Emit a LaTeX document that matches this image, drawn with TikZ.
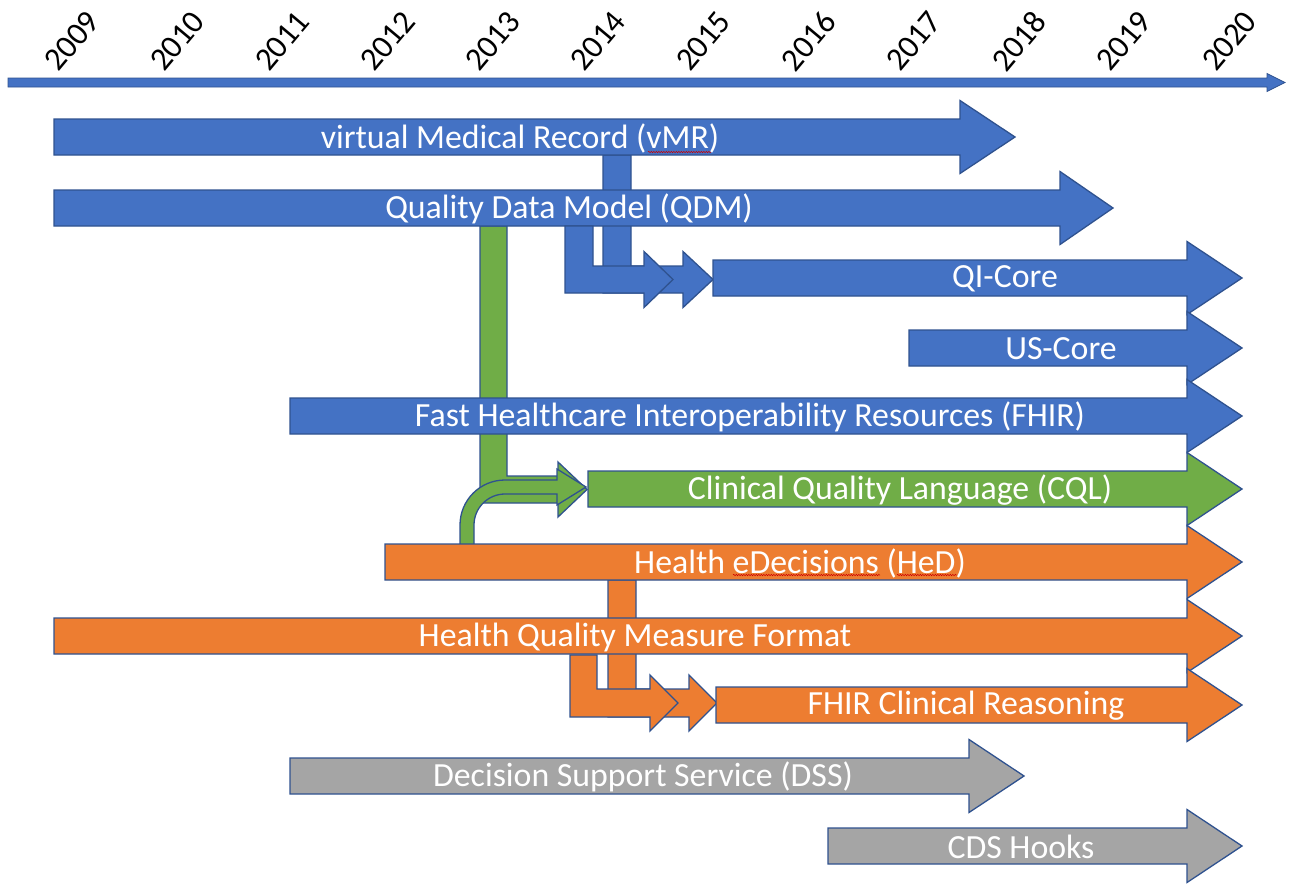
\documentclass[tikz,border=0pt]{standalone}
\usepackage{fontspec}
\setmainfont{Carlito}
\usetikzlibrary{decorations.pathmorphing}
\definecolor{cblue}{HTML}{4472C4}
\definecolor{cgreen}{HTML}{70AD47}
\definecolor{corange}{HTML}{ED7D31}
\definecolor{cgray}{HTML}{A5A5A5}
\definecolor{cline}{HTML}{2F528F}
\tikzset{
  blk/.style={draw=cline, line width=1.3pt, line join=miter},
  lbl/.style={text=white, font=\fontsize{33.8}{40}\selectfont, inner sep=0pt, anchor=center},
  yr/.style={font=\fontsize{32.5}{38}\selectfont, rotate=50, inner sep=0pt, anchor=center},
  squig/.style={draw=red!80!black, line width=0.5pt, decorate, decoration={snake, amplitude=0.7pt, segment length=2.5pt}}
}
% block arrow: #1 left x, #2 head back x, #3 tip x, #4 centre y, #5 colour
\newcommand{\blockarrow}[5]{%
  \path[blk, fill=#5] (#1,#4-18) -- (#2,#4-18) -- (#2,#4-36.5) -- (#3,#4) -- (#2,#4+36.5) -- (#2,#4+18) -- (#1,#4+18) -- cycle;}
% bent arrow: #1 xl, #2 xr, #3 ytop, #4 yin, #5 ybot, #6 head back, #7 tip, #8 head half, #9 colour
\newcommand{\bentarrow}[9]{%
  \path[blk, fill=#9] (#1,#3) -- (#2,#3) -- (#2,#4) -- (#6,#4) -- (#6,{(#4+#5)/2-#8}) -- (#7,{(#4+#5)/2}) -- (#6,{(#4+#5)/2+#8}) -- (#6,#5) -- (#1,#5) -- cycle;}
\begin{document}
\begin{tikzpicture}[x=1pt,y=-1pt]
\useasboundingbox (0,0) rectangle (1292,886);
% time axis
\path[blk, line width=0.8pt, fill=cblue] (8,78) -- (1267,78) -- (1267,73.5) -- (1285,82.5) -- (1267,91.5) -- (1267,87) -- (8,87) -- cycle;
\foreach \yy [count=\i from 0] in {2009,2010,2011,2012,2013,2014,2015,2016,2017,2018,2019,2020}
  \node[yr] (y\yy) at ({72+105.2*\i},41) {\yy};
% connectors behind boxes
\bentarrow{603}{631}{155}{266}{293}{683}{713}{28}{cblue}
\bentarrow{608}{636}{580}{689}{717}{689}{717}{28}{corange}
\bentarrow{480}{507}{226}{476}{503}{558}{587}{27.5}{cgreen}
\path[blk, fill=cgreen] (460,545) -- (460,525) .. controls (460,500.1) and (480.1,480) .. (505,480) -- (557,480) -- (557,469) -- (586,487) -- (557,505) -- (557,494) -- (505,494) .. controls (487.9,494) and (474,507.9) .. (474,525) -- (474,545) -- cycle;
% main block arrows
\blockarrow{54}{960}{1015}{137}{cblue}
\blockarrow{54}{1060}{1113}{208}{cblue}
\blockarrow{713}{1187}{1242}{278}{cblue}
\blockarrow{909}{1187}{1242}{348}{cblue}
\blockarrow{290}{1187}{1242}{416}{cblue}
\blockarrow{588}{1187}{1242}{489}{cgreen}
\blockarrow{385}{1187}{1242}{562}{corange}
\blockarrow{54}{1187}{1242}{636}{corange}
\blockarrow{716}{1187}{1242}{705}{corange}
\blockarrow{290}{969}{1024}{776}{cgray}
\blockarrow{828}{1187}{1242}{846}{cgray}
% connectors in front
\bentarrow{565}{593}{226}{266}{293}{644}{673}{28}{cblue}
\bentarrow{570}{597}{655}{689}{717}{650}{678}{28}{corange}
% labels
\node[lbl] (vmr) at (520,138) {virtual Medical Record (vMR)};
\node[lbl] (qdm) at (569,209) {Quality Data Model (QDM)};
\node[lbl] (qic) at (1005,279) {QI-Core};
\node[lbl] (usc) at (1061,349) {US-Core};
\node[lbl] (fhir) at (750,417) {Fast Healthcare Interoperability Resources (FHIR)};
\node[lbl] (cql) at (900,490) {Clinical Quality Language (CQL)};
\node[lbl] (hed) at (800,563) {Health eDecisions (HeD)};
\node[lbl] (hqmf) at (635,637) {Health Quality Measure Format};
\node[lbl] (fcr) at (966,706) {FHIR Clinical Reasoning};
\node[lbl] (dss) at (643,777) {Decision Support Service (DSS)};
\node[lbl] (cds) at (1021,847) {CDS Hooks};
% spell-check squiggles
\draw[squig] (648,152) -- (711,152);
\draw[squig] (733,575) -- (880,575);
\draw[squig] (897,575) -- (957,575);
\end{tikzpicture}
\end{document}
